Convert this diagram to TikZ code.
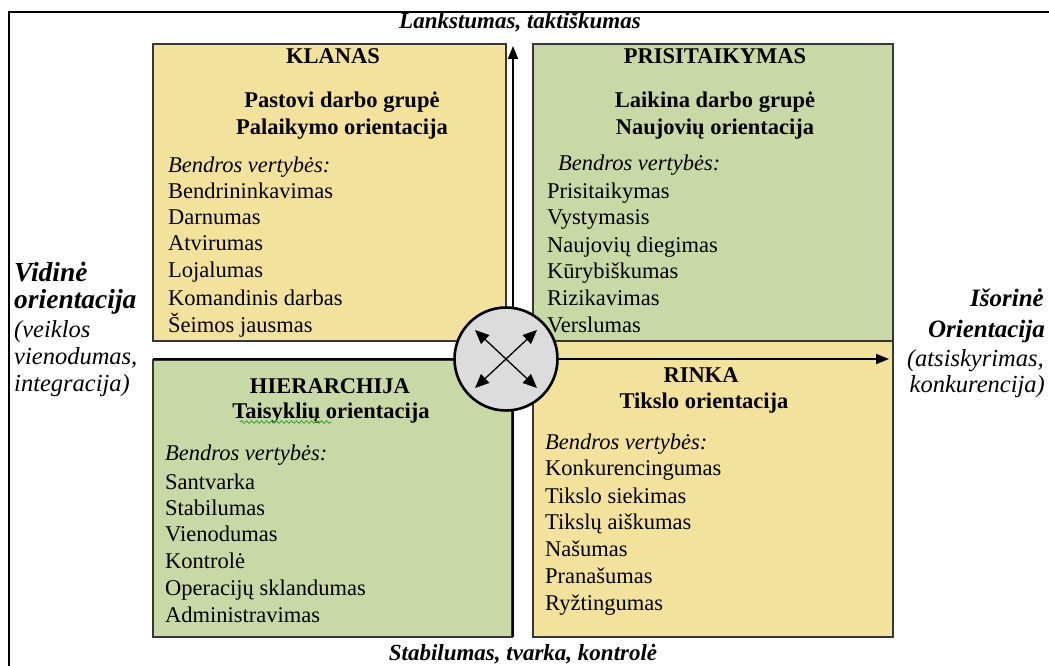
\documentclass[tikz,border=0pt]{standalone}
\usepackage{fontspec}
\setmainfont{Liberation Serif}
\usetikzlibrary{arrows.meta,decorations.pathmorphing}
\definecolor{qyellow}{RGB}{243,226,155}
\definecolor{qgreen}{RGB}{201,217,166}
\definecolor{qgray}{RGB}{220,220,220}
\definecolor{qborder}{RGB}{55,55,55}
\definecolor{spell}{RGB}{60,170,60}
\begin{document}
\begin{tikzpicture}[x=1pt,y=-1pt,
  quad/.style={draw=qborder, line width=1.6pt, anchor=north west, inner sep=0pt, outer sep=0pt},
  hd/.style={font=\fontsize{22.5}{26}\selectfont\bfseries, anchor=base, inner sep=0pt},
  itl/.style={font=\fontsize{22.5}{26}\selectfont\itshape, anchor=base west, inner sep=0pt},
  li/.style={font=\fontsize{22.5}{26}\selectfont, anchor=base west, inner sep=0pt},
  ax/.style={font=\fontsize{23}{26}\selectfont\bfseries\itshape, anchor=base, inner sep=0pt},
  sidebfl/.style={font=\fontsize{27.5}{30}\selectfont\bfseries\itshape, inner sep=0pt},
  sidebfr/.style={font=\fontsize{25}{28}\selectfont\bfseries\itshape, inner sep=0pt},
  sideit/.style={font=\fontsize{24.5}{27}\selectfont\itshape, inner sep=0pt},
  axisarrow/.style={line width=1.8pt, -{Triangle[length=13pt,width=10pt]}},
  diag/.style={line width=1.3pt, {Triangle[length=14pt,width=12pt]}-{Triangle[length=14pt,width=12pt]}}]
\useasboundingbox (0,0) rectangle (1049,666);
\fill[white] (0,0) rectangle (1049,666);
% outer frame
\coordinate (f1) at (9,666);
\coordinate (f2) at (9,12);
\coordinate (f3) at (1049,12);
\draw[line width=2.6pt] (f1) -- (f2) -- (f3);
% quadrants
\node[quad, fill=qyellow, minimum width=353pt, minimum height=297pt] (tl) at (153,44) {};
\node[quad, fill=qgreen, minimum width=360pt, minimum height=297pt] (tr) at (533,44) {};
\node[quad, fill=qgreen, minimum width=359pt, minimum height=277pt] (bl) at (153,360) {};
\node[quad, fill=qyellow, minimum width=360pt, minimum height=296pt] (br) at (533,341) {};
% axes
\coordinate (vs) at (513,637);
\coordinate (ve) at (513,46);
\coordinate (hs) at (153,359);
\coordinate (he) at (889,359);
\draw[axisarrow] (vs) -- (ve);
\draw[axisarrow] (hs) -- (he);
% centre circle
\node[circle, draw=black, line width=2.6pt, fill=qgray, minimum size=103pt, inner sep=0pt] (c) at (506,359) {};
\coordinate (d1) at (475,330);
\coordinate (d2) at (537,388);
\coordinate (d3) at (537,330);
\coordinate (d4) at (475,388);
\draw[diag] (d1) -- (d2);
\draw[diag] (d3) -- (d4);
% axis labels
\node[ax] (top) at (520,29) {Lankstumas, taktiškumas};
\node[ax] (bot) at (523,660) {Stabilumas, tvarka, kontrolė};
\node[sidebfl, anchor=base west] (l1) at (14,281) {Vidinė};
\node[sidebfl, anchor=base west] (l2) at (14,308) {orientacija};
\node[sideit, anchor=base west] (l3) at (14,337) {(veiklos};
\node[sideit, anchor=base west] (l4) at (14,364) {vienodumas,};
\node[sideit, anchor=base west] (l5) at (14,391) {integracija)};
\node[sidebfr, anchor=base east] (r1) at (1044,306) {Išorinė};
\node[sidebfr, anchor=base east] (r2) at (1045,337) {Orientacija};
\node[sideit, anchor=base east] (r3) at (1044,366) {(atsiskyrimas,};
\node[sideit, anchor=base east] (r4) at (1045,392) {konkurencija)};
% TL
\node[hd] (tlh) at (333,64) {KLANAS};
\node[hd] (tl1) at (342,108) {Pastovi darbo grupė};
\node[hd] (tl2) at (342,135) {Palaikymo orientacija};
\node[itl] (tlb) at (168,172) {Bendros vertybės:};
\node[li] at (168,198) {Bendrininkavimas};
\node[li] at (168,224) {Darnumas};
\node[li] at (168,250) {Atvirumas};
\node[li] at (168,277) {Lojalumas};
\node[li] at (168,305) {Komandinis darbas};
\node[li] at (168,332) {Šeimos jausmas};
% TR
\node[hd] (trh) at (715,64) {PRISITAIKYMAS};
\node[hd] (tr1) at (715,108) {Laikina darbo grupė};
\node[hd] (tr2) at (715,135) {Naujovių orientacija};
\node[itl] (trb) at (558,170) {Bendros vertybės:};
\node[li] at (547,198) {Prisitaikymas};
\node[li] at (547,224) {Vystymasis};
\node[li] at (547,252) {Naujovių diegimas};
\node[li] at (547,278) {Kūrybiškumas};
\node[li] at (547,305) {Rizikavimas};
\node[li] at (547,332) {Verslumas};
% BL
\node[hd] (blh) at (330,393) {HIERARCHIJA};
\node[hd] (bl1) at (331,418) {Taisyklių orientacija};
\coordinate (s1) at (240,422);
\coordinate (s2) at (332,422);
\draw[spell, line width=0.9pt, decorate, decoration={snake, amplitude=1.3pt, segment length=5pt}] (s1) -- (s2);
\node[itl] (blb) at (165,460) {Bendros vertybės:};
\node[li] at (165,489) {Santvarka};
\node[li] at (165,515) {Stabilumas};
\node[li] at (165,541) {Vienodumas};
\node[li] at (165,568) {Kontrolė};
\node[li] at (165,595) {Operacijų sklandumas};
\node[li] at (165,622) {Administravimas};
% BR
\node[hd] (brh) at (701,382) {RINKA};
\node[hd] (br1) at (704,408) {Tikslo orientacija};
\node[itl] (brb) at (545,449) {Bendros vertybės:};
\node[li] at (545,475) {Konkurencingumas};
\node[li] at (545,503) {Tikslo siekimas};
\node[li] at (545,529) {Tikslų aiškumas};
\node[li] at (545,556) {Našumas};
\node[li] at (545,583) {Pranašumas};
\node[li] at (545,610) {Ryžtingumas};
\end{tikzpicture}
\end{document}
